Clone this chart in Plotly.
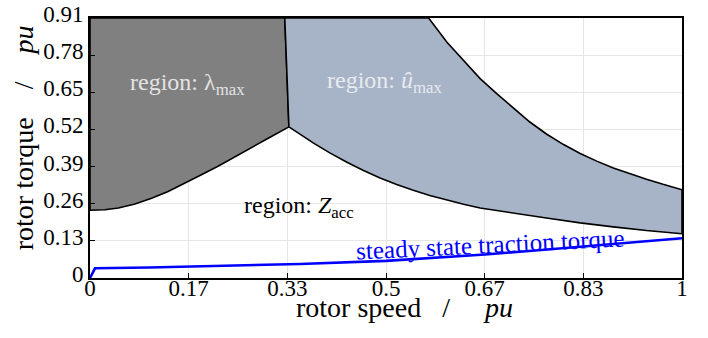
import plotly.graph_objects as go

# ---- data ----
x_tick_vals = [0, 1/6, 2/6, 3/6, 4/6, 5/6, 1]
x_tick_text = ["0", "0.17", "0.33", "0.5", "0.67", "0.83", "1"]
y_tick_vals = [0, 0.13, 0.26, 0.39, 0.52, 0.65, 0.78, 0.91]
y_tick_text = ["0", "0.13", "0.26", "0.39", "0.52", "0.65", "0.78", "0.91"]

# lower boundary of the lambda_max region
lam_lower_x = [0.0, 0.025, 0.048, 0.076, 0.104, 0.132, 0.160, 0.189, 0.217, 0.245, 0.273, 0.301, 0.336]
lam_lower_y = [0.237, 0.239, 0.245, 0.259, 0.279, 0.303, 0.332, 0.362, 0.392, 0.424, 0.456, 0.489, 0.529]

# border between the two regions (from top to the peak)
div_x = [0.329, 0.332, 0.336]
div_y = [0.91, 0.75, 0.529]

# upper boundary of the u_max region
u_upper_x = [0.572, 0.603, 0.631, 0.659, 0.687, 0.715, 0.743, 0.771, 0.800, 0.828, 0.856, 0.884, 0.912, 0.940, 0.968, 1.0]
u_upper_y = [0.91, 0.825, 0.760, 0.698, 0.645, 0.594, 0.546, 0.504, 0.467, 0.436, 0.409, 0.385, 0.365, 0.346, 0.328, 0.309]

# lower boundary of the u_max region
u_lower_x = [0.336, 0.377, 0.405, 0.434, 0.462, 0.490, 0.518, 0.546, 0.574, 0.603, 0.631, 0.659, 0.715, 0.771, 0.828, 0.884, 0.940, 1.0]
u_lower_y = [0.529, 0.473, 0.438, 0.405, 0.376, 0.350, 0.327, 0.307, 0.289, 0.272, 0.258, 0.245, 0.227, 0.210, 0.193, 0.179, 0.166, 0.155]

# steady state traction torque
trac_x = [0.0, 0.0084, 0.1, 0.22, 0.355, 0.5, 0.667, 0.833, 1.0]
trac_y = [0.0, 0.034, 0.037, 0.043, 0.049, 0.060, 0.082, 0.110, 0.139]

Y_MAX = 0.91

# ---- polygons built from the arrays ----
lam_poly_x = [0.0] + [div_x[0]] + div_x[1:] + lam_lower_x[::-1][1:] + [0.0]
lam_poly_y = [Y_MAX] + [div_y[0]] + div_y[1:] + lam_lower_y[::-1][1:] + [Y_MAX]

u_poly_x = [div_x[0]] + u_upper_x + u_lower_x[::-1] + div_x[::-1]
u_poly_y = [div_y[0]] + u_upper_y + u_lower_y[::-1] + div_y[::-1]

FONT = "Liberation Serif"
NB = "\u00a0"

fig = go.Figure()
fig.add_trace(go.Scatter(x=lam_poly_x, y=lam_poly_y, mode="lines", fill="toself",
                         fillcolor="#808080", line=dict(color="black", width=1.6),
                         hoverinfo="skip", showlegend=False))
fig.add_trace(go.Scatter(x=u_poly_x, y=u_poly_y, mode="lines", fill="toself",
                         fillcolor="#a7b3c6", line=dict(color="black", width=1.6),
                         hoverinfo="skip", showlegend=False))
fig.add_trace(go.Scatter(x=trac_x, y=trac_y, mode="lines",
                         line=dict(color="#0000ff", width=2.6),
                         showlegend=False))

ann = dict(showarrow=False, xanchor="center", yanchor="middle")
fig.add_annotation(x=0.165, y=0.678, text="region: λ<sub>max</sub>",
                   font=dict(family=FONT, size=24, color="#e4e4e4"), **ann)
fig.add_annotation(x=0.498, y=0.685, text="region: <i>û</i><sub>max</sub>",
                   font=dict(family=FONT, size=24, color="#e8ebf0"), **ann)
fig.add_annotation(x=0.353, y=0.249, text="region: <i>Z</i><sub>acc</sub>",
                   font=dict(family=FONT, size=24, color="black"), **ann)
fig.add_annotation(x=0.676, y=0.118, text="steady state traction torque", textangle=-2.8,
                   font=dict(family=FONT, size=25, color="#0000ff"), **ann)
# axis titles
fig.add_annotation(xref="paper", yref="paper", x=0.532, y=-0.112,
                   text="rotor speed" + NB * 3 + "/" + NB * 5 + "<i>pu</i>",
                   font=dict(family=FONT, size=28, color="black"), **ann)
fig.add_annotation(xref="paper", yref="paper", x=-0.112, y=0.540, textangle=-90,
                   text="rotor torque" + NB * 4 + "/" + NB * 4 + "<i>pu</i>",
                   font=dict(family=FONT, size=28, color="black"), **ann)

axis_common = dict(showline=True, mirror=True, linecolor="black", linewidth=2,
                   showgrid=True, gridcolor="#e6e6e6", gridwidth=1,
                   ticks="inside", ticklen=5, tickcolor="black", tickwidth=1,
                   zeroline=False, automargin=False,
                   tickfont=dict(family=FONT, size=23, color="black"))

fig.update_xaxes(range=[0, 1], tickvals=x_tick_vals, ticktext=x_tick_text,
                 ticklabelstandoff=-12, **axis_common)
fig.update_yaxes(range=[0, Y_MAX], tickvals=y_tick_vals, ticktext=y_tick_text,
                 ticklabelshift=-4, **axis_common)

fig.update_layout(width=708, height=338, margin=dict(l=90, r=26, t=18, b=60),
                  plot_bgcolor="white", paper_bgcolor="white")

fig.write_html("out.html")
